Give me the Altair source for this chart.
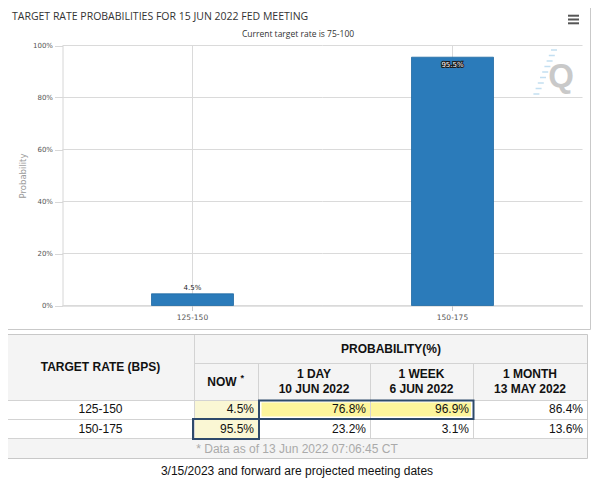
import altair as alt
import pandas as pd

# ---------------- data ----------------
chart_title = "TARGET RATE PROBABILITIES FOR 15 JUN 2022 FED MEETING"
chart_subtitle = "Current target rate is 75-100"
y_axis_title = "Probability"
y_tick_values = [0, 20, 40, 60, 80, 100]

target_rates = ["125-150", "150-175"]
prob_now = [4.5, 95.5]
prob_1day = [76.8, 23.2]
prob_1week = [96.9, 3.1]
prob_1month = [86.4, 13.6]

table_corner_header = "TARGET RATE (BPS)"
table_group_header = "PROBABILITY(%)"
now_header = "NOW"
period_headers = ["1 DAY", "1 WEEK", "1 MONTH"]
period_dates = ["10 JUN 2022", "6 JUN 2022", "13 MAY 2022"]
note_text = "* Data as of 13 Jun 2022 07:06:45 CT"
footer_text = "3/15/2023 and forward are projected meeting dates"
watermark_text = "Q"

# ---------------- layout (pixel grid of the reference page) ----------------
ORIGIN = 8                       # page margin
CANVAS_W, CANVAS_H = 584, 472
PLOT_X = [62.5, 582.5]
PLOT_Y = [305.5, 45.5]
COL_EDGES = [7, 194, 258, 370, 473, 587]
ROW_EDGES = [334, 363, 400, 419, 438, 458]

CX = alt.Scale(domain=[ORIGIN, ORIGIN + CANVAS_W], range=[0, CANVAS_W], nice=False, zero=False)
CY = alt.Scale(domain=[ORIGIN, ORIGIN + CANVAS_H], range=[0, CANVAS_H], nice=False, zero=False)


def cx(f="x"):
    return alt.X(f"{f}:Q", scale=CX, axis=None)


def cy(f="y"):
    return alt.Y(f"{f}:Q", scale=CY, axis=None)


def rects(rows):
    return pd.DataFrame(rows, columns=["x", "x2", "y", "y2"])


TABLE_FONT = "Liberation Sans"

# --- frames / fills ---
panel = alt.Chart(rects([(5.5, 590.5, 5.5, 329.5)])).mark_rect(
    fill="transparent", stroke="#c9c9c9", strokeWidth=1
).encode(x=cx(), x2="x2:Q", y=cy(), y2="y2:Q")

fill_df = pd.DataFrame(
    [
        (COL_EDGES[0], COL_EDGES[-1], ROW_EDGES[0], ROW_EDGES[2], "#f4f4f4"),
        (COL_EDGES[0], COL_EDGES[-1], ROW_EDGES[4], ROW_EDGES[5], "#f4f4f4"),
        (COL_EDGES[1], COL_EDGES[2], ROW_EDGES[2], ROW_EDGES[4], "#faf7d4"),
        (COL_EDGES[2] + 3.5, COL_EDGES[4] - 2, ROW_EDGES[2] + 2.5, ROW_EDGES[3] - 2.5, "#fdf59c"),
    ],
    columns=["x", "x2", "y", "y2", "c"],
)
fills = alt.Chart(fill_df).mark_rect().encode(
    x=cx(), x2="x2:Q", y=cy(), y2="y2:Q", fill=alt.Fill("c:N", scale=None)
)

line_rows = [
    (COL_EDGES[1], COL_EDGES[-1], ROW_EDGES[1] + 0.5, ROW_EDGES[1] + 0.5),
    (COL_EDGES[0], COL_EDGES[-1], ROW_EDGES[2] + 0.5, ROW_EDGES[2] + 0.5),
    (COL_EDGES[0], COL_EDGES[-1], ROW_EDGES[3] + 0.5, ROW_EDGES[3] + 0.5),
    (COL_EDGES[0], COL_EDGES[-1], ROW_EDGES[4] + 0.5, ROW_EDGES[4] + 0.5),
    (COL_EDGES[1] + 0.5, COL_EDGES[1] + 0.5, ROW_EDGES[0], ROW_EDGES[4]),
]
for e in COL_EDGES[2:5]:
    line_rows.append((e + 0.5, e + 0.5, ROW_EDGES[1], ROW_EDGES[4]))
grid_lines = alt.Chart(rects(line_rows)).mark_rule(color="#d3d3d3", strokeWidth=1).encode(
    x=cx(), x2="x2:Q", y=cy(), y2="y2:Q"
)

table_border = alt.Chart(
    rects([(COL_EDGES[0] + 0.5, COL_EDGES[-1] + 0.5, ROW_EDGES[0] + 0.5, ROW_EDGES[-1] + 0.5)])
).mark_rect(fill="transparent", stroke="#c8c8c8", strokeWidth=1).encode(
    x=cx(), x2="x2:Q", y=cy(), y2="y2:Q"
)

boxes = alt.Chart(
    rects([
        (COL_EDGES[2] + 1, COL_EDGES[4] + 0.5, ROW_EDGES[2] + 0.5, ROW_EDGES[3]),
        (COL_EDGES[1] - 1, COL_EDGES[2] + 1, ROW_EDGES[3], ROW_EDGES[4] + 1),
    ])
).mark_rect(fill="transparent", stroke="#2e4a6b", strokeWidth=2).encode(
    x=cx(), x2="x2:Q", y=cy(), y2="y2:Q"
)

hamburger = alt.Chart(
    rects([(568, 579, 15.7, 15.7), (568, 579, 19.5, 19.5), (568, 579, 23.3, 23.3)])
).mark_rule(color="#555555", strokeWidth=2).encode(x=cx(), x2="x2:Q", y=cy(), y2="y2:Q")

# faint streaks of the watermark logo
streak_rows = [(551 - 2.2 * k, 557 - 2.2 * k, 50 + 5.5 * k, 50 + 5.5 * k) for k in range(9)]
streaks = alt.Chart(rects(streak_rows)).mark_rule(color="#c3dff1", strokeWidth=1.5).encode(
    x=cx(), x2="x2:Q", y=cy(), y2="y2:Q"
)

# --- texts ---
def text_layer(df, **kw):
    return alt.Chart(df).mark_text(**kw).encode(x=cx(), y=cy(), text="t:N")


col_mid = [(COL_EDGES[i] + COL_EDGES[i + 1]) / 2 for i in range(len(COL_EDGES) - 1)]
hdr_rows = [
    (col_mid[0], 367, table_corner_header),
    (391, 348.5, table_group_header),
    (col_mid[1] - 4, 381.7, now_header),
]
for i, (h, d) in enumerate(zip(period_headers, period_dates)):
    hdr_rows.append((col_mid[i + 2], 374.3, h))
    hdr_rows.append((col_mid[i + 2], 389.3, d))
hdr_df = pd.DataFrame(hdr_rows, columns=["x", "y", "t"])
headers = text_layer(hdr_df, font=TABLE_FONT, fontSize=12, fontWeight="bold", color="#111",
                     align="center", baseline="middle")
star = text_layer(pd.DataFrame([(242.3, 377.5, "*")], columns=["x", "y", "t"]),
                  font=TABLE_FONT, fontSize=9, fontWeight="bold", color="#111",
                  align="center", baseline="middle")

row_y = [409.2, 428.8]
lbl_df = pd.DataFrame({"x": [col_mid[0]] * 2, "y": row_y, "t": target_rates})
row_labels = text_layer(lbl_df, font=TABLE_FONT, fontSize=12, color="#111",
                        align="center", baseline="middle")

val_rows = []
for ci, series in enumerate([prob_now, prob_1day, prob_1week, prob_1month]):
    for ri, v in enumerate(series):
        val_rows.append((COL_EDGES[ci + 2] - 4, row_y[ri], f"{v:.1f}%"))
val_df = pd.DataFrame(val_rows, columns=["x", "y", "t"])
values = text_layer(val_df, font=TABLE_FONT, fontSize=12, color="#111",
                    align="right", baseline="middle")

note = text_layer(pd.DataFrame([(297, 448.5, note_text)], columns=["x", "y", "t"]),
                  font=TABLE_FONT, fontSize=12, color="#aaaaaa", align="center", baseline="middle")
footer = text_layer(pd.DataFrame([(297, 470.5, footer_text)], columns=["x", "y", "t"]),
                    font=TABLE_FONT, fontSize=12, color="#111", align="center", baseline="middle")

title = text_layer(pd.DataFrame([(12, 16.5, chart_title)], columns=["x", "y", "t"]),
                   font="Open Sans", fontSize=10.5, color="#333333", align="left", baseline="middle")
subtitle = text_layer(pd.DataFrame([(298, 33.5, chart_subtitle)], columns=["x", "y", "t"]),
                      font="Open Sans", fontSize=8.5, color="#333333", align="center", baseline="middle")
watermark = text_layer(pd.DataFrame([(561, 87, watermark_text)], columns=["x", "y", "t"]),
                       font="Liberation Sans", fontSize=33, fontWeight="bold", color="#c9c9c9",
                       align="center", baseline="alphabetic")

decor = alt.layer(panel, fills, grid_lines, table_border, boxes, hamburger, streaks,
                  headers, star, row_labels, values, note, footer,
                  title, subtitle, watermark)

# --- bar chart ---
bar_df = pd.DataFrame({"rate": target_rates, "prob": prob_now})
bar_df["label"] = [f"{v:.1f}%" for v in prob_now]

BAND = (PLOT_X[1] - PLOT_X[0]) / len(target_rates)
BX = alt.Scale(domain=target_rates, range=[PLOT_X[0] - ORIGIN, PLOT_X[1] - ORIGIN],
               paddingInner=0, paddingOuter=0)
BY = alt.Scale(domain=[0, 100], range=[PLOT_Y[0] - ORIGIN, PLOT_Y[1] - ORIGIN], nice=False)

X_AXIS = alt.Axis(orient="bottom", title=None, labelAngle=0,
                  offset=-(CANVAS_H - (PLOT_Y[0] - ORIGIN)),
                  grid=False, domainColor="#c8c8c8", tickColor="#c8c8c8",
                  tickSize=5, labelPadding=3, labelFont="DejaVu Sans", labelFontSize=7.5,
                  labelColor="#555555")
Y_AXIS = alt.Axis(orient="left", values=y_tick_values, labelExpr="datum.value + '%'",
                  offset=-(PLOT_X[0] - ORIGIN), grid=False,
                  domainColor="#d6d6d6", tickColor="#d8d8d8", tickSize=8, labelPadding=2,
                  labelFont="DejaVu Sans", labelFontSize=7, labelColor="#555555",
                  title=y_axis_title, titleFont="DejaVu Sans", titleFontSize=8.5,
                  titleFontWeight="normal", titleColor="#9a9a9a",
                  titleX=14.7 - (PLOT_X[0] - ORIGIN), titleY=(PLOT_Y[0] + PLOT_Y[1]) / 2 - ORIGIN,
                  titleAngle=270, titleAlign="center", titleBaseline="middle")


def bx(field):
    return alt.X(f"{field}:N", scale=BX, sort=None, axis=X_AXIS)


def by(field):
    return alt.Y(f"{field}:Q", scale=BY, axis=Y_AXIS)


GRID_COLOR = "#dadada"
ygrid_df = pd.DataFrame([(r, t) for r in target_rates for t in y_tick_values], columns=["rate", "tick"])
ygrid = alt.Chart(ygrid_df).mark_tick(
    orient="horizontal", size=BAND, thickness=1, color=GRID_COLOR, opacity=1
).encode(x=bx("rate"), y=by("tick"))

xgrid = alt.Chart(pd.DataFrame({"rate": target_rates, "lo": 0, "hi": 100})).mark_rule(
    color=GRID_COLOR, strokeWidth=1
).encode(x=bx("rate"), y=by("lo"), y2="hi:Q")

bars = alt.Chart(bar_df).mark_bar(size=82, color="#2b7bba", stroke="#1f69a3", strokeWidth=0.8).encode(
    x=bx("rate"), y=by("prob")
)
lab_out = alt.Chart(bar_df).transform_filter("datum.prob < 90").mark_text(
    baseline="bottom", dy=-3, fontSize=7, font="DejaVu Sans", color="#222222"
).encode(x=bx("rate"), y=by("prob"), text="label:N")
lab_in_halo = alt.Chart(bar_df).transform_filter("datum.prob >= 90").mark_text(
    baseline="top", dy=4, fontSize=7, font="DejaVu Sans", color="#1a1a1a",
    stroke="#1a1a1a", strokeWidth=2
).encode(x=bx("rate"), y=by("prob"), text="label:N")
lab_in = alt.Chart(bar_df).transform_filter("datum.prob >= 90").mark_text(
    baseline="top", dy=4, fontSize=7, font="DejaVu Sans", color="white"
).encode(x=bx("rate"), y=by("prob"), text="label:N")

bar_layer = alt.layer(ygrid, xgrid, bars, lab_out, lab_in_halo, lab_in)

chart = (
    alt.layer(decor, bar_layer)
    .resolve_scale(x="independent", y="independent")
    .properties(width=CANVAS_W, height=CANVAS_H, padding=0,
                autosize=alt.AutoSizeParams(type="none"), background="white")
    .configure_view(stroke=None)
)

chart.save("out.html", embed_options={"renderer": "svg", "actions": False})
